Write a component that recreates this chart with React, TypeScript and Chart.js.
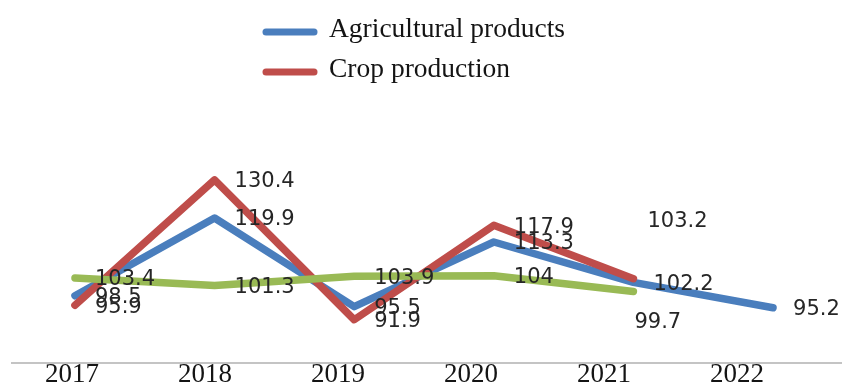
import React, { useEffect, useRef } from "react";
import { Chart, registerables } from "chart.js";

Chart.register(...registerables);

const years = ["2017", "2018", "2019", "2020", "2021", "2022"];
const agriculturalProducts = [98.5, 119.9, 95.5, 113.3, 102.2, 95.2];
const cropProduction = [95.9, 130.4, 91.9, 117.9, 103.2];
const thirdSeries = [103.4, 101.3, 103.9, 104, 99.7];

const BLUE = "#4A7EBD";
const RED = "#BF4D4A";
const GREEN = "#99BA55";

// label offsets (dx, dy) relative to the point; default is to the right
const labelOffsets: Record<string, [number, number]> = {
  "1-4": [14, -57],
  "2-4": [1, 31],
};

const dataLabelPlugin = {
  id: "dataLabels",
  afterDatasetsDraw(chart: any) {
    const ctx = chart.ctx;
    ctx.save();
    ctx.font = '21px "DejaVu Sans"';
    ctx.fillStyle = "#262626";
    ctx.textAlign = "left";
    ctx.textBaseline = "middle";
    chart.data.datasets.forEach((ds: any, di: number) => {
      const meta = chart.getDatasetMeta(di);
      meta.data.forEach((pt: any, i: number) => {
        const off = labelOffsets[`${di}-${i}`] || [20, 2];
        const v = ds.data[i].y;
        ctx.fillText(String(v), pt.x + off[0], pt.y + off[1]);
      });
    });
    ctx.restore();
  },
};

const legendPlugin = {
  id: "customLegend",
  afterDraw(chart: any) {
    const ctx = chart.ctx;
    ctx.save();
    const items = chart.data.datasets.filter((d: any) => d.showInLegend);
    items.forEach((ds: any, k: number) => {
      const y = 32 + k * 40;
      ctx.strokeStyle = ds.borderColor;
      ctx.lineWidth = 7;
      ctx.lineCap = "round";
      ctx.beginPath();
      ctx.moveTo(266, y);
      ctx.lineTo(314, y);
      ctx.stroke();
      ctx.fillStyle = "#141414";
      ctx.font = '27.5px "Liberation Serif"';
      ctx.textAlign = "left";
      ctx.textBaseline = "alphabetic";
      ctx.fillText(ds.label, 329, y + 5);
    });
    ctx.restore();
  },
};

export default function App() {
  const ref = useRef<HTMLCanvasElement>(null);

  useEffect(() => {
    if (!ref.current) return;
    const toPts = (arr: number[]) => arr.map((v, i) => ({ x: i, y: v }));
    const common = {
      borderWidth: 7.5,
      pointRadius: 0,
      borderCapStyle: "round",
      borderJoinStyle: "round",
      tension: 0,
      fill: false,
      xAxisID: "x",
      yAxisID: "y",
    };
    const chart = new Chart(ref.current, {
      type: "line",
      data: {
        datasets: [
          {
            ...common,
            label: "Agricultural products",
            data: toPts(agriculturalProducts),
            borderColor: BLUE,
            backgroundColor: BLUE,
            order: 2,
            showInLegend: true,
          } as any,
          {
            ...common,
            label: "Crop production",
            data: toPts(cropProduction),
            borderColor: RED,
            backgroundColor: RED,
            order: 1,
            showInLegend: true,
          } as any,
          {
            ...common,
            label: "",
            data: toPts(thirdSeries),
            borderColor: GREEN,
            backgroundColor: GREEN,
            order: 0,
            showInLegend: false,
          } as any,
        ],
      },
      options: {
        responsive: false,
        animation: false,
        devicePixelRatio: 1,
        layout: { padding: { top: 145, left: 12, right: 0, bottom: 0 } },
        plugins: {
          legend: { display: false },
          tooltip: { enabled: false },
        },
        scales: {
          x: {
            type: "linear",
            display: false,
            min: -0.451,
            max: 5.494,
          },
          x2: {
            type: "linear",
            position: "bottom",
            min: -0.451,
            max: 5.79,
            grid: { display: false, drawTicks: false },
            border: { display: true, color: "#c4c4c4", width: 2 },
            afterBuildTicks: (s: any) => {
              s.ticks = years.map((_, i) => ({ value: i }));
            },
            ticks: {
              padding: 0,
              autoSkip: false,
              maxRotation: 0,
              color: "#141414",
              font: { family: '"Liberation Serif"', size: 27, lineHeight: 0.89 },
              callback: (v: any) => years[v] ?? "",
            },
          },
          y: {
            type: "linear",
            display: false,
            min: 80,
            max: 140,
          },
        },
      } as any,
      plugins: [dataLabelPlugin, legendPlugin],
    });
    return () => chart.destroy();
  }, []);

  return (
    <div style={{ position: "fixed", left: 0, top: 0, width: 842, height: 387, background: "#fff" }}>
      <canvas ref={ref} width={842} height={387} style={{ display: "block" }} />
    </div>
  );
}
